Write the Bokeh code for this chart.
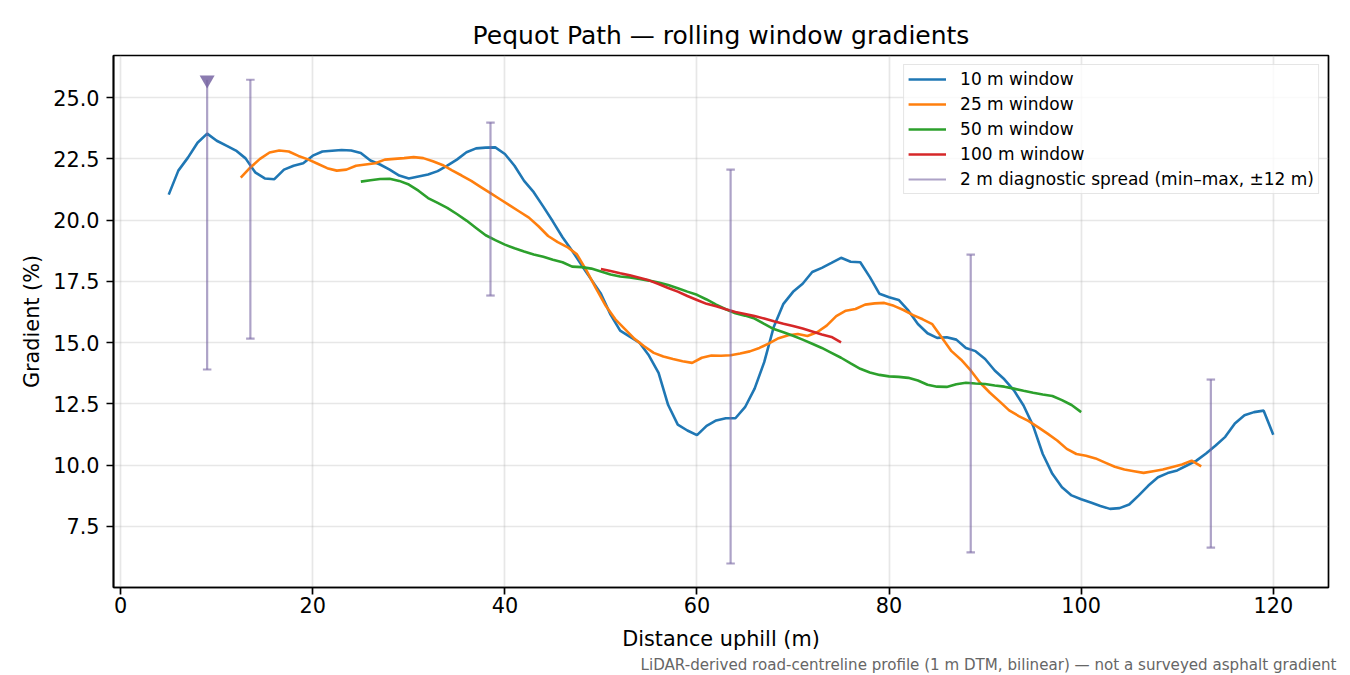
import numpy as np
from bokeh.plotting import figure
from bokeh.models import (Range1d, FixedTicker, NumeralTickFormatter, Legend,
                          LegendItem, Title, ColumnDataSource)
from bokeh.embed import file_html
from bokeh.resources import INLINE

# ---------------- data ----------------
W10_START = 5.0
W10 = [21.04, 22.02, 22.55, 23.16, 23.53, 23.24, 23.04, 22.84, 22.52, 21.95,
       21.70, 21.67, 22.06, 22.22, 22.32, 22.63, 22.80, 22.83, 22.86, 22.84,
       22.74, 22.43, 22.27, 22.06, 21.82, 21.70, 21.78, 21.86, 22.00, 22.22,
       22.47, 22.77, 22.93, 22.96, 22.97, 22.70, 22.22, 21.60, 21.14, 20.55,
       19.94, 19.30, 18.75, 18.15, 17.57, 16.99, 16.14, 15.49, 15.24, 15.00,
       14.47, 13.76, 12.45, 11.65, 11.41, 11.22, 11.60, 11.82, 11.91, 11.91,
       12.36, 13.12, 14.20, 15.65, 16.58, 17.07, 17.40, 17.88, 18.05, 18.25,
       18.46, 18.30, 18.28, 17.67, 16.99, 16.85, 16.74, 16.31, 15.76, 15.38,
       15.19, 15.22, 15.12, 14.78, 14.65, 14.33, 13.86, 13.50, 13.05, 12.43,
       11.60, 10.45, 9.64, 9.09, 8.76, 8.60, 8.47, 8.33, 8.21, 8.24,
       8.39, 8.76, 9.16, 9.50, 9.67, 9.78, 9.98, 10.18, 10.47, 10.80,
       11.15, 11.70, 12.03, 12.16, 12.22, 11.24]

W25_START = 12.5
W25 = [21.73, 22.15, 22.50, 22.76, 22.84, 22.80, 22.62, 22.48, 22.30, 22.12,
       22.02, 22.06, 22.22, 22.27, 22.32, 22.47, 22.50, 22.53, 22.57, 22.53,
       22.40, 22.25, 22.03, 21.82, 21.60, 21.35, 21.10, 20.85, 20.60, 20.35,
       20.10, 19.75, 19.35, 19.10, 18.90, 18.60, 17.94, 17.20, 16.50, 15.95,
       15.55, 15.15, 14.85, 14.58, 14.43, 14.33, 14.24, 14.17, 14.38, 14.47,
       14.46, 14.48, 14.55, 14.64, 14.78, 14.97, 15.18, 15.30, 15.35, 15.27,
       15.42, 15.69, 16.08, 16.30, 16.37, 16.55, 16.60, 16.62, 16.50, 16.33,
       16.12, 15.95, 15.75, 15.20, 14.65, 14.30, 13.86, 13.35, 12.95, 12.60,
       12.23, 12.00, 11.80, 11.55, 11.28, 11.00, 10.66, 10.45, 10.38, 10.27,
       10.10, 9.93, 9.82, 9.75, 9.68, 9.75, 9.82, 9.92, 10.02, 10.18,
       9.95]

W50_START = 25.0
W50 = [21.57, 21.63, 21.68, 21.69, 21.60, 21.45, 21.20, 20.90, 20.70, 20.50,
       20.25, 19.98, 19.68, 19.38, 19.18, 19.00, 18.85, 18.72, 18.60, 18.50,
       18.38, 18.28, 18.10, 18.08, 18.02, 17.90, 17.78, 17.70, 17.66, 17.60,
       17.53, 17.45, 17.35, 17.22, 17.08, 16.95, 16.76, 16.55, 16.36, 16.20,
       16.10, 15.98, 15.76, 15.55, 15.42, 15.28, 15.12, 14.95, 14.78, 14.58,
       14.38, 14.15, 13.93, 13.78, 13.68, 13.62, 13.60, 13.56, 13.45, 13.28,
       13.20, 13.19, 13.30, 13.36, 13.33, 13.31, 13.25, 13.20, 13.12, 13.03,
       12.95, 12.88, 12.82, 12.65, 12.45, 12.16]

W100_START = 50.0
W100 = [18.00, 17.92, 17.83, 17.75, 17.65, 17.54, 17.39, 17.23, 17.08, 16.90,
        16.74, 16.58, 16.48, 16.36, 16.25, 16.17, 16.08, 15.98, 15.87, 15.77,
        15.68, 15.57, 15.45, 15.33, 15.23, 15.01]

SPREAD_X = [9.0, 13.5, 38.5, 63.5, 88.5, 113.5]
SPREAD_MIN = [13.90, 15.16, 16.92, 5.98, 6.43, 6.63]
SPREAD_MAX = [25.73, 25.73, 23.98, 22.06, 18.59, 13.49]
SPREAD_CLIPPED = [True, False, False, False, False, False]

SERIES_LABELS = ["10 m window", "25 m window", "50 m window", "100 m window"]
SPREAD_LABEL = "2 m diagnostic spread (min\u2013max, \u00b112 m)"
X_TICKS = [0, 20, 40, 60, 80, 100, 120]
Y_TICKS = [7.5, 10.0, 12.5, 15.0, 17.5, 20.0, 22.5, 25.0]

TITLE = "Pequot Path \u2014 rolling window gradients"
X_LABEL = "Distance uphill (m)"
Y_LABEL = "Gradient (%)"
FOOTNOTE = ("LiDAR-derived road-centreline profile (1 m DTM, bilinear) "
            "\u2014 not a surveyed asphalt gradient")

COLORS = ["#1f77b4", "#ff7f0e", "#2ca02c", "#d62728"]
SPREAD_COLOR = "#7764a2"
FONT = "DejaVu Sans"

# ---------------- figure ----------------
p = figure(frame_width=1215, frame_height=532,
           x_range=Range1d(-0.75, 125.75), y_range=Range1d(5.0, 26.72),
           output_backend="svg", toolbar_location=None,
           min_border_left=113, min_border_top=55, min_border_right=14,
           min_border_bottom=4, background_fill_color="white",
           border_fill_color="white")

p.title.text = TITLE
p.title.align = "center"
p.title.text_font = FONT
p.title.text_font_size = "25px"
p.title.text_font_style = "normal"
p.title.text_color = "black"
p.title.standoff = 12

p.outline_line_color = "black"
p.outline_line_width = 1.7

for ax in (p.xaxis, p.yaxis):
    ax.axis_line_color = "black"
    ax.axis_line_width = 1.7
    ax.major_tick_line_color = "black"
    ax.major_tick_line_width = 1.7
    ax.major_tick_out = 7
    ax.major_tick_in = 0
    ax.minor_tick_line_color = None
    ax.major_label_text_font = FONT
    ax.major_label_text_font_size = "20.8px"
    ax.major_label_text_color = "black"
    ax.axis_label_text_font = FONT
    ax.axis_label_text_font_size = "20.8px"
    ax.axis_label_text_font_style = "normal"
    ax.axis_label_text_color = "black"

p.xaxis.major_label_standoff = 2
p.yaxis.major_label_standoff = 7
p.xaxis.ticker = FixedTicker(ticks=X_TICKS)
p.yaxis.ticker = FixedTicker(ticks=Y_TICKS)
p.yaxis.formatter = NumeralTickFormatter(format="0.0")
p.xaxis.axis_label = X_LABEL
p.yaxis.axis_label = Y_LABEL
p.xaxis.axis_label_standoff = 11
p.yaxis.axis_label_standoff = 6

p.xgrid.ticker = FixedTicker(ticks=X_TICKS)
p.ygrid.ticker = FixedTicker(ticks=Y_TICKS)
for g in (p.xgrid, p.ygrid):
    g.grid_line_color = "#b0b0b0"
    g.grid_line_alpha = 0.3
    g.grid_line_width = 1.7

# ---------------- lines ----------------
renderers = []
for start, vals, col in ((W10_START, W10, COLORS[0]), (W25_START, W25, COLORS[1]),
                         (W50_START, W50, COLORS[2]), (W100_START, W100, COLORS[3])):
    xs = start + np.arange(len(vals))
    src = ColumnDataSource(dict(x=xs, y=vals))
    r = p.line("x", "y", source=src, line_color=col, line_width=2.6)
    renderers.append(r)

# ---------------- diagnostic spread (error bars) ----------------
eb = ColumnDataSource(dict(x=SPREAD_X, lo=SPREAD_MIN, hi=SPREAD_MAX))
p.segment(x0="x", y0="lo", x1="x", y1="hi", source=eb,
          line_color=SPREAD_COLOR, line_alpha=0.6, line_width=2.2)
p.scatter(x=SPREAD_X, y=SPREAD_MIN, marker="dash", size=8.5,
          line_color=SPREAD_COLOR, line_alpha=0.6, line_width=2.2)
top_x = [x for x, c in zip(SPREAD_X, SPREAD_CLIPPED) if not c]
top_y = [y for y, c in zip(SPREAD_MAX, SPREAD_CLIPPED) if not c]
p.scatter(x=top_x, y=top_y, marker="dash", size=8.5,
          line_color=SPREAD_COLOR, line_alpha=0.6, line_width=2.2)
clip_x = [x for x, c in zip(SPREAD_X, SPREAD_CLIPPED) if c]
clip_y = [y for y, c in zip(SPREAD_MAX, SPREAD_CLIPPED) if c]
p.scatter(x=clip_x, y=clip_y, marker="inverted_triangle", size=15,
          fill_color=SPREAD_COLOR, fill_alpha=0.85, line_color=None)

# legend proxy for the spread (vertical line)
proxy = p.vspan(x=[np.nan], line_color=SPREAD_COLOR, line_alpha=0.6, line_width=2.2)

items = [LegendItem(label=lab, renderers=[r]) for lab, r in zip(SERIES_LABELS, renderers)]
items.append(LegendItem(label=SPREAD_LABEL, renderers=[proxy]))
legend = Legend(items=items, location="top_right", margin=9, padding=4,
                spacing=5, label_height=20, glyph_height=20, glyph_width=38,
                label_standoff=14, label_text_font=FONT,
                label_text_font_size="17px", label_text_color="black",
                border_line_color="#cccccc", border_line_width=1.5,
                background_fill_color="white", background_fill_alpha=0.8)
p.add_layout(legend)

foot = Title(text=FOOTNOTE, align="right", text_font=FONT,
             text_font_size="15.1px", text_font_style="normal",
             text_color="#666666", offset=-8, standoff=0)
p.add_layout(foot, "below")

open("out.html", "w").write(file_html(p, INLINE))
